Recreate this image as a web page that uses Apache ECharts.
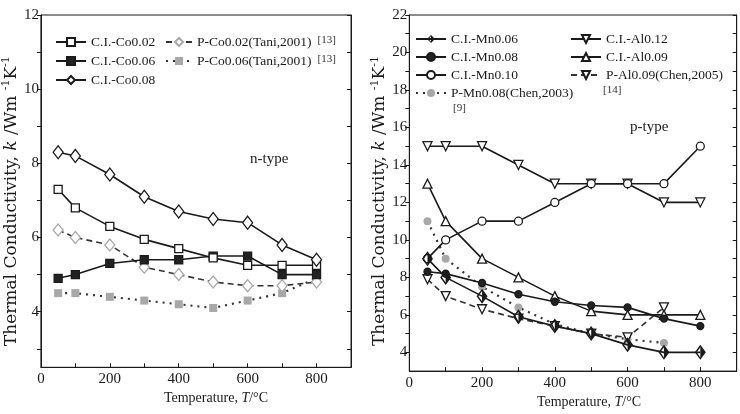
<!DOCTYPE html>
<html><head><meta charset="utf-8">
<script src="https://cdn.jsdelivr.net/npm/echarts@6/dist/echarts.min.js"></script>
<style>html,body{margin:0;padding:0;background:#fff}#c{width:740px;height:414px}</style>
</head><body><div id="c"></div>
<script>
// ---- data ----
const temps = [50, 100, 200, 300, 400, 500, 600, 700, 800];
// n-type (left)
const ciCo002 = [7.3, 6.8, 6.3, 5.95, 5.7, 5.45, 5.25, 5.25, 5.25];
const ciCo006 = [4.9, 5.0, 5.3, 5.4, 5.4, 5.5, 5.5, 5.0, 5.0];
const ciCo008 = [8.3, 8.2, 7.7, 7.1, 6.7, 6.5, 6.4, 5.8, 5.4];
const pCo002 = [6.2, 6.0, 5.8, 5.2, 5.0, 4.8, 4.7, 4.7, 4.8];
const pCo006 = [4.5, 4.5, 4.4, 4.3, 4.2, 4.1, 4.3, 4.5, 4.9];
// p-type (right)
const ciMn006 = [9.0, 8.0, 7.0, 5.9, 5.4, 5.0, 4.4, 4.0, 4.0];
const ciMn008 = [8.3, 8.2, 7.7, 7.1, 6.7, 6.5, 6.4, 5.8, 5.4];
const ciMn010 = [9.0, 10, 11, 11, 12, 13, 13, 13, 15];
const ciAl012 = [15, 15, 15, 14, 13, 13, 13, 12, 12];
const ciAl009 = [13, 11, 9, 8, 7, 6.2, 6.0, 6.0, 6.0];
const pAl009 = [7.9, 7.0, 6.3, 5.8, 5.4, 5.0, 4.8, 6.4, null];
const pMn008 = [11, 9, 7.5, 6.4, 5.5, 5.0, 4.7, 4.5, null];
// ticks
const xLabelVals = [0, 200, 400, 600, 800];
const xTickVals = [100, 200, 300, 400, 500, 600, 700, 800];
const yLeftLabels = [4, 6, 8, 10, 12];
const yLeftTicks = [3, 4, 5, 6, 7, 8, 9, 10, 11, 12];
const yRightLabels = [4, 6, 8, 10, 12, 14, 16, 18, 20, 22];
const yRightTicks = [4, 5, 6, 7, 8, 9, 10, 11, 12, 13, 14, 15, 16, 17, 18, 19, 20, 21, 22];

const serif = 'Liberation Serif';
const ink = '#1a1a1a';
const grey = '#a8a8a8';
const pairs = arr => temps.map((t, i) => [t, arr[i]]).filter(p => p[1] != null);

const halfDiamond = 'path://M7,0 L14,10 L7,20 L0,10 Z M7,3.2 L2.4,10 L7,16.8 L11.6,10 Z M7,0 L14,10 L7,20 Z';

function xAx(gi, gap, pad) {
  return {
    type: 'value', gridIndex: gi, min: 0, max: 900, interval: 100,
    axisLine: {lineStyle: {color: ink, width: 1}},
    axisTick: {inside: true, length: 4, customValues: xTickVals, lineStyle: {color: ink}},
    axisLabel: {customValues: xLabelVals, color: ink, fontFamily: serif, fontSize: 15, margin: 4},
    splitLine: {show: false},
    name: 'Temperature, {i|T}/°C', nameLocation: 'middle', nameGap: gap,
    nameTextStyle: {color: ink, fontFamily: serif, fontSize: 14, padding: pad,
      rich: {i: {fontStyle: 'italic', fontFamily: serif, fontSize: 14, color: ink}}}
  };
}
function yAx(gi, min, max, labels, ticks, pad, gap) {
  return {
    type: 'value', gridIndex: gi, min: min, max: max,
    axisLine: {lineStyle: {color: ink, width: 1}},
    axisTick: {inside: false, length: 4, customValues: ticks, lineStyle: {color: ink}},
    axisLabel: {customValues: labels, color: ink, fontFamily: serif, fontSize: 15, margin: 2},
    splitLine: {show: false},
    name: 'Thermal Conductivity, {i|k} /Wm {s|-1}K{s|-1}', nameLocation: 'middle', nameGap: gap, nameRotate: 90,
    nameTextStyle: {color: ink, fontFamily: 'DejaVu Serif', fontSize: 17, padding: pad,
      rich: {i: {fontStyle: 'italic', fontFamily: 'DejaVu Serif', fontSize: 17, color: ink},
             s: {fontFamily: 'DejaVu Serif', fontSize: 11, color: ink, padding: [0, 0, 10, 0]}}}
  };
}
function yMirror(gi, min, max, ticks) {
  return {
    type: 'value', gridIndex: gi, min: min, max: max, position: 'right',
    axisLine: {show: true, lineStyle: {color: ink, width: 1}},
    axisTick: {inside: true, length: 4, customValues: ticks, lineStyle: {color: ink}},
    axisLabel: {show: false}, splitLine: {show: false}
  };
}
function ser(name, arr, gi, o) {
  return {
    name: name, type: 'line', xAxisIndex: gi, yAxisIndex: gi * 2, data: pairs(arr),
    symbol: o.symbol, symbolSize: o.size || 9, symbolRotate: o.rot || 0,
    showSymbol: true, animation: false,
    lineStyle: {color: o.lineColor || ink, width: o.lw || 1.6, type: o.type || 'solid'},
    itemStyle: {color: o.fill, borderColor: o.border || ink, borderWidth: o.bw == null ? 1.3 : o.bw},
    emphasis: {disabled: true}, z: o.z || 2
  };
}
const series = [
  ser('P-Co0.06(Tani,2001)', pCo006, 0, {symbol: 'rect', size: 8, fill: grey, border: grey, bw: 0, type: [2, 5], lw: 2.2, lineColor: '#333'}),
  ser('P-Co0.02(Tani,2001)', pCo002, 0, {symbol: 'diamond', size: [10, 12], fill: '#fff', border: grey, type: [6, 4], lineColor: '#333'}),
  ser('C.I.-Co0.06', ciCo006, 0, {symbol: 'rect', size: 8, fill: '#222', border: ink}),
  ser('C.I.-Co0.02', ciCo002, 0, {symbol: 'rect', size: 8, fill: '#fff'}),
  ser('C.I.-Co0.08', ciCo008, 0, {symbol: 'diamond', size: [10, 13], fill: '#fff'}),
  ser('P-Mn0.08(Chen,2003)', pMn008, 1, {symbol: 'circle', size: 8, fill: grey, border: grey, bw: 0, type: [2, 5], lw: 2.2, lineColor: '#333'}),
  ser('P-Al0.09(Chen,2005)', pAl009, 1, {symbol: 'triangle', rot: 180, size: 9, fill: '#fff', type: [6, 4], lineColor: '#333'}),
  ser('C.I.-Al0.09', ciAl009, 1, {symbol: 'triangle', size: 9, fill: '#fff'}),
  ser('C.I.-Al0.12', ciAl012, 1, {symbol: 'triangle', rot: 180, size: 9, fill: '#fff'}),
  ser('C.I.-Mn0.10', ciMn010, 1, {symbol: 'circle', size: 8, fill: '#fff'}),
  ser('C.I.-Mn0.08', ciMn008, 1, {symbol: 'circle', size: 7, fill: '#222', border: ink}),
  ser('C.I.-Mn0.06', ciMn006, 1, {symbol: halfDiamond, size: [11, 15], fill: ink, bw: 0})
];
const legText = {color: ink, fontFamily: serif, fontSize: 13.5,
  rich: {r: {fontFamily: serif, fontSize: 11, color: '#333', padding: [0, 0, 3, 6]}}};
function leg(data, left, top, gap, w, fmt) {
  return {data: data, left: left, top: top, orient: 'vertical', itemWidth: w, itemHeight: 10,
    itemGap: gap, textStyle: legText, selectedMode: false, padding: 0,
    formatter: fmt || (n => n)};
}
const ref13 = n => n + '{r|[13]}';
const option = {
  backgroundColor: '#fff',
  animation: false,
  grid: [
    {left: 39.5, right: 389, top: 15, bottom: 46.7, show: true, borderColor: ink, borderWidth: 1},
    {left: 409.3, right: 3.3, top: 15, bottom: 42.3, show: true, borderColor: ink, borderWidth: 1}
  ],
  xAxis: [xAx(0, 23, [0, 0, 0, 40]), xAx(1, 22, [0, 0, 0, 32])],
  yAxis: [
    yAx(0, 2.5, 12, yLeftLabels, yLeftTicks, [0, 20, 0, 0], 10), yMirror(0, 2.5, 12, yLeftTicks),
    yAx(1, 3, 22, yRightLabels, yRightTicks, [0, 16, 0, 0], 13), yMirror(1, 3, 22, yRightTicks)
  ].map((a, i) => Object.assign(a, {gridIndex: i < 2 ? 0 : 1})),
  legend: [
    leg(['C.I.-Co0.02', 'C.I.-Co0.06', 'C.I.-Co0.08'], 55, 35, 5, 30),
    leg(['P-Co0.02(Tani,2001)', 'P-Co0.06(Tani,2001)'], 165, 35, 5, 26, ref13),
    leg(['C.I.-Mn0.06', 'C.I.-Mn0.08', 'C.I.-Mn0.10', 'P-Mn0.08(Chen,2003)'], 415, 32, 4, 30),
    leg(['C.I.-Al0.12', 'C.I.-Al0.09', 'P-Al0.09(Chen,2005)'], 570, 32, 4, 30)
  ],
  graphic: [
    {type: 'text', left: 250, top: 152, style: {text: 'n-type', fill: ink, font: '15px "Liberation Serif"'}},
    {type: 'text', left: 630, top: 120, style: {text: 'p-type', fill: ink, font: '15px "Liberation Serif"'}},
    {type: 'text', left: 453, top: 103, style: {text: '[9]', fill: '#333', font: '11px "Liberation Serif"'}},
    {type: 'text', left: 603, top: 85, style: {text: '[14]', fill: '#333', font: '11px "Liberation Serif"'}}
  ],
  series: series
};
const chart = echarts.init(document.getElementById('c'), null, {renderer: 'canvas'});
chart.setOption(option);
</script></body></html>
